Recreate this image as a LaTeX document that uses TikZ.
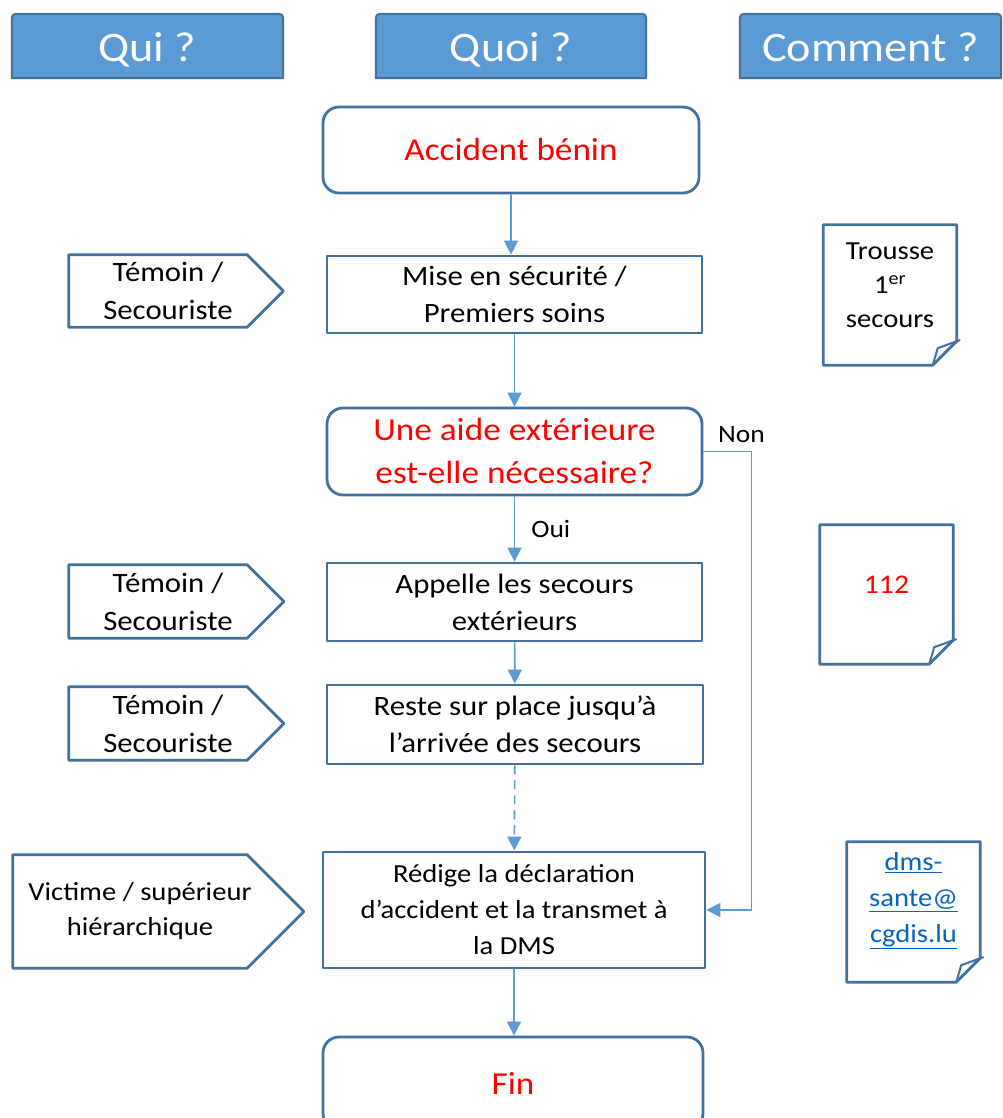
\documentclass[tikz,border=0pt]{standalone}
\usepackage{fontspec}
\setmainfont{Carlito}[FakeStretch=1.1]
\usetikzlibrary{positioning,calc,arrows.meta,backgrounds}

\definecolor{frameblue}{HTML}{41719C}
\definecolor{headblue}{HTML}{5B9BD5}
\definecolor{linkblue}{HTML}{0563C1}
\definecolor{alertred}{HTML}{FF0000}

\tikzset{
  frame/.style={draw=frameblue, line width=2.8pt, line join=round},
  head/.style={inner sep=0pt, minimum height=64pt, text=white, text height=36pt, text depth=4pt,
    font=\fontsize{42}{48}\selectfont},
  task/.style={frame, inner sep=0pt, minimum width=375pt, align=center, font=\fontsize{28}{37}\selectfont},
  terminal/.style={task, rounded corners=16pt, text=alertred, font=\fontsize{32}{43}\selectfont},
  who/.style={inner sep=0pt, minimum width=198pt, minimum height=72pt, align=center, font=\fontsize{28}{38}\selectfont},
  doc/.style={inner sep=0pt, minimum width=133pt, minimum height=140pt},
  doctext/.style={inner sep=0pt, align=center, font=\fontsize{26}{34}\selectfont},
  lbl/.style={inner sep=2pt, font=\fontsize{25}{30}\selectfont},
  link/.style={draw=headblue, line width=1.6pt, -{Triangle[length=14pt,width=14pt]}},
}

\begin{document}
\begin{tikzpicture}[x=1pt, y=-1pt]
  \useasboundingbox (0,0) rectangle (1002,1118);
  \clip (0,0) rectangle (1002,1118);

  % Column headers
  \node[head, minimum width=271pt] (qui) at (147.5,46) {Qui ?};
  \node[head, minimum width=270pt] (quoi) at (511,46) {Quoi ?};
  \node[head, minimum width=261pt] (comment) at (870.5,46) {Comment ?};
  \begin{scope}[on background layer]
    \foreach \n in {qui,quoi,comment}
      \draw[frame, fill=headblue, line width=2pt] (\n.south west) -- ([yshift=-9pt]\n.north west)
        .. controls (\n.north west) .. ([xshift=9pt]\n.north west) -- ([xshift=-9pt]\n.north east)
        .. controls (\n.north east) .. ([yshift=-9pt]\n.north east) -- (\n.south east) -- cycle;
  \end{scope}

  % Quoi: process steps
  \node[terminal, minimum width=376pt, minimum height=86pt] (accident) at (511,150) {Accident bénin};
  \node[task, minimum height=77pt] (mise) at (514.5,294.5) {Mise en sécurité /\\Premiers soins};
  \node[terminal, minimum height=87pt] (aide) at (514.5,451.5) {Une aide extérieure\\est-elle nécessaire?};
  \node[task, minimum height=78pt] (appelle) at (514.5,602) {Appelle les secours\\extérieurs};
  \node[task, minimum width=376pt, minimum height=79pt] (reste) at (515,724.5) {Reste sur place jusqu’à\\l’arrivée des secours};
  \node[task, minimum width=382pt, minimum height=116pt, font=\fontsize{26}{36}\selectfont] (redige) at (514,910)
    {Rédige la déclaration\\d’accident et la transmet à\\la DMS};
  \node[terminal, minimum width=380pt, minimum height=92pt] (fin) at (513,1083) {Fin};

  % Qui: actors
  \node[who] (wA) at (168,291) {Témoin /\\Secouriste};
  \node[who, minimum height=73pt] (wB) at (168,601.5) {Témoin /\\Secouriste};
  \node[who, minimum height=73pt] (wC) at (168,723.5) {Témoin /\\Secouriste};
  \node[who, minimum width=254pt, minimum height=113pt, font=\fontsize{26}{35}\selectfont] (wD) at (140,911.5)
    {Victime / supérieur\\hiérarchique};
  \foreach \n in {wA,wB,wC,wD}
    \draw[frame] (\n.north west) -- ([xshift=-20pt]\n.north east)
      -- ($([xshift=-20pt]\n.east)!1!-90:([xshift=-20pt]\n.north east)$)
      -- ([xshift=-20pt]\n.south east) -- (\n.south west) -- cycle;

  % Comment: documents
  \node[doc] (trousse) at (890,295) {};
  \node[doctext] (trousseT) at ([yshift=10pt]trousse.center) {Trousse\\1\textsuperscript{er}\\secours};
  \node[doc, minimum height=139pt] (secours) at (886.5,594.5) {};
  \node[doctext, text=alertred, font=\fontsize{27}{34}\selectfont] (secoursT) at ([yshift=10pt]secours.center) {112};
  \node[doc] (mail) at (913.5,912) {};
  \node[doctext, text=linkblue, font=\fontsize{26}{36}\selectfont] (mailT) at ([yshift=11pt]mail.center)
    {\underline{dms-}\\\underline{sante@}\\\underline{cgdis.lu}};
  \foreach \n in {trousse,secours,mail} {
    \draw[frame] (\n.north west) -- (\n.north east) -- ([yshift=24pt]\n.south east)
      -- ([xshift=-24pt]\n.south east) -- (\n.south west) -- cycle;
    \draw[frame, line width=2pt] ([xshift=-24pt]\n.south east) -- ([xshift=-19pt,yshift=17pt]\n.south east)
      -- ([xshift=3pt,yshift=25pt]\n.south east) -- ([yshift=24pt]\n.south east);
  }

  % Connectors
  \draw[link] (accident.south) -- (accident.south |- mise.north);
  \draw[link] (mise) -- (aide);
  \draw[link] (aide) -- node[lbl, right=14pt] {Oui} (appelle);
  \draw[link] (appelle) -- (reste);
  \draw[link, dash pattern=on 9pt off 6pt] (reste) -- (redige);
  \draw[link] (redige.south) -- (redige.south |- fin.north);
  \draw[link] (aide.east) -- node[lbl, above=6pt, xshift=14pt] {Non} ++(48,0) |- (redige.east);
\end{tikzpicture}
\end{document}
